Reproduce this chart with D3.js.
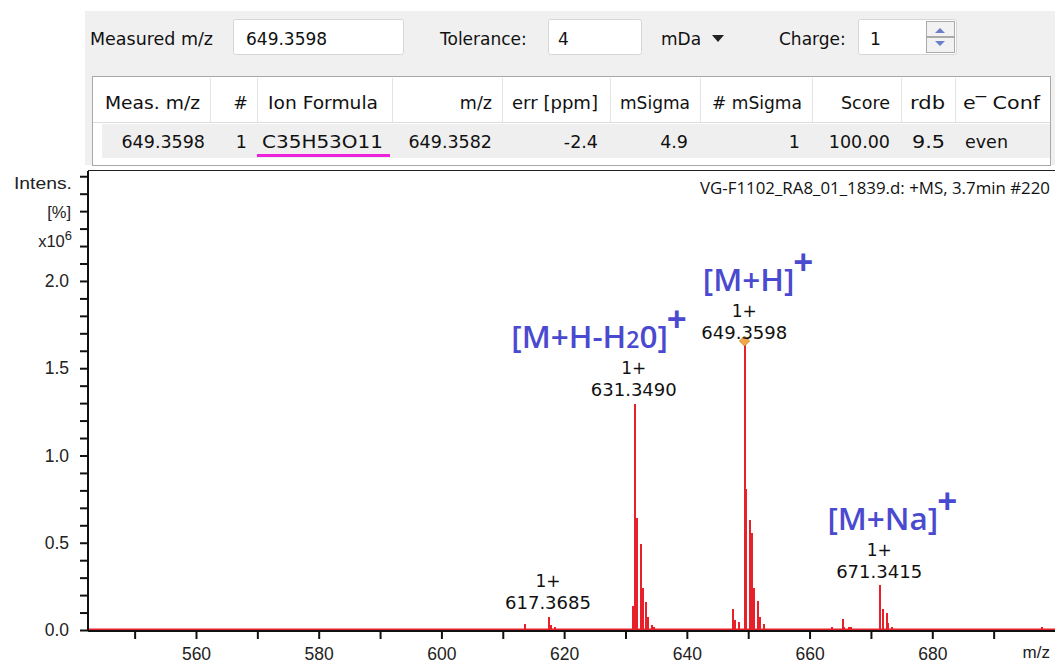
<!DOCTYPE html>
<html><head><meta charset="utf-8">
<script src="https://cdn.jsdelivr.net/npm/d3@7"></script>
<style>
html,body{margin:0;padding:0;background:#fff;}
svg{display:block;}
</style></head>
<body>
<svg id="chart" width="1055" height="664"></svg>
<script>
// ---------- DATA ----------
const peakMz = [613.47, 617.3685, 617.77, 618.30,
  631.06, 631.3490, 631.66, 632.31, 632.64, 633.24, 633.57, 634.20, 634.50,
  647.41, 647.68, 648.33, 649.3598, 649.53, 650.19, 650.44, 650.84, 651.43, 651.76, 652.41,
  663.50, 665.26, 665.50, 666.24, 666.57,
  671.3415, 671.73, 672.38, 672.60, 673.35, 697.70];
const peakIntensity = [0.033, 0.073, 0.030, 0.020,
  0.140, 1.295, 0.640, 0.490, 0.240, 0.160, 0.076, 0.030, 0.020,
  0.120, 0.057, 0.044, 1.656, 0.806, 0.630, 0.554, 0.240, 0.168, 0.076, 0.033,
  0.020, 0.065, 0.020, 0.020, 0.018,
  0.258, 0.120, 0.096, 0.042, 0.020, 0.020];
const labelMz = [617.3685, 631.3490, 649.3598, 671.3415];
const labelIntensity = [0.073, 1.295, 1.656, 0.258];
const labelCharge = ["1+", "1+", "1+", "1+"];
const ionNames = ["[M+H-H", "[M+H]", "[M+Na]"];
const ionSub = ["2", "", ""];
const ionTail = ["0]", "", ""];
const ionPeakMz = [631.3490, 649.3598, 671.3415];
const xTicks = [560, 580, 600, 620, 640, 660, 680];
const yTicks = [0.0, 0.5, 1.0, 1.5, 2.0];
const tableHeaders = ["Meas. m/z", "#", "Ion Formula", "m/z", "err [ppm]", "mSigma", "# mSigma", "Score", "rdb", "e\u203E Conf"];
const tableRow = ["649.3598", "1", "C35H53O11", "649.3582", "-2.4", "4.9", "1", "100.00", "9.5", "even"];
const measuredMz = "649.3598", tolerance = "4", toleranceUnit = "mDa", charge = "1";
const spectrumTitle = "VG-F1102_RA8_01_1839.d: +MS, 3.7min #220";

// ---------- LAYOUT ----------
const svg = d3.select("#chart");
const uiFont = "'DejaVu Sans', sans-serif";
const axFont = "'Liberation Sans', Arial, sans-serif";
const plot = {left: 88, right: 1055, top: 171, bottom: 630};
const x = d3.scaleLinear().domain([542.4, 700]).range([plot.left, plot.right]);
const y = d3.scaleLinear().domain([0, 2.63]).range([plot.bottom, plot.top]);

// ---- top form panel ----
svg.append("rect").attr("x", 85).attr("y", 11).attr("width", 970).attr("height", 154).attr("fill", "#f0f0f0");
const form = svg.append("g").attr("font-family", uiFont).attr("font-size", 17).attr("fill", "#111");
form.append("text").attr("x", 90).attr("y", 45).attr("textLength", 123).attr("lengthAdjust", "spacingAndGlyphs").text("Measured m/z");
form.append("rect").attr("x", 233.5).attr("y", 19.5).attr("width", 170).attr("height", 35).attr("fill", "#fff").attr("stroke", "#d6d6d6").attr("rx", 2);
form.append("text").attr("x", 246).attr("y", 45).text(measuredMz);
form.append("text").attr("x", 440).attr("y", 45).text("Tolerance:");
form.append("rect").attr("x", 548.5).attr("y", 19.5).attr("width", 93).attr("height", 35).attr("fill", "#fff").attr("stroke", "#d6d6d6").attr("rx", 2);
form.append("text").attr("x", 558).attr("y", 45).text(tolerance);
form.append("text").attr("x", 661).attr("y", 45).text(toleranceUnit);
form.append("path").attr("d", "M712,35 h12 l-6,7 z").attr("fill", "#222");
form.append("text").attr("x", 779).attr("y", 45).text("Charge:");
form.append("rect").attr("x", 858.5).attr("y", 19.5).attr("width", 98).attr("height", 35).attr("fill", "#fff").attr("stroke", "#d6d6d6").attr("rx", 2);
form.append("text").attr("x", 870).attr("y", 45).text(charge);
form.append("rect").attr("x", 926.5).attr("y", 21.5).attr("width", 28).attr("height", 15).attr("fill", "#f2f2f2").attr("stroke", "#aaa");
form.append("rect").attr("x", 926.5).attr("y", 37.5).attr("width", 28).attr("height", 15).attr("fill", "#f2f2f2").attr("stroke", "#aaa");
form.append("path").attr("d", "M935,33 h10 l-5,-5 z").attr("fill", "#6a7fc8");
form.append("path").attr("d", "M935,41 h10 l-5,5 z").attr("fill", "#6a7fc8");

// ---- table ----
const tbl = svg.append("g").attr("font-family", uiFont).attr("font-size", 17.5).attr("fill", "#111");
tbl.append("rect").attr("x", 92.5).attr("y", 76.5).attr("width", 958).attr("height", 89).attr("fill", "#fff").attr("stroke", "#a8a8a8");
tbl.append("rect").attr("x", 102).attr("y", 124).attr("width", 948).attr("height", 34).attr("fill", "#efefef");
tbl.append("line").attr("x1", 93).attr("x2", 1050).attr("y1", 122.5).attr("y2", 122.5).attr("stroke", "#dcdcdc");
const colSep = [210, 257, 392, 502, 610, 700, 812, 901, 955];
colSep.forEach(c => tbl.append("line").attr("x1", c + 0.5).attr("x2", c + 0.5).attr("y1", 78).attr("y2", 122).attr("stroke", "#e4e4e4"));
const hdrX = [105, 248, 268, 492, 512, 620, 712, 890, 910, 963];
const hdrAnchor = ["start", "end", "start", "end", "start", "start", "start", "end", "start", "start"];
const hdrW = [95, 0, 110, 0, 86, 70, 90, 0, 35, 77];
tableHeaders.forEach((h, i) => {
  const t = tbl.append("text").attr("x", hdrX[i]).attr("y", 109).attr("text-anchor", hdrAnchor[i]).text(h);
  if (hdrW[i]) t.attr("textLength", hdrW[i]).attr("lengthAdjust", "spacingAndGlyphs");
});
const rowX = [205, 247, 262, 492, 598, 688, 800, 890, 912, 965];
const rowAnchor = ["end", "end", "start", "end", "end", "end", "end", "end", "start", "start"];
const rowW = [0, 0, 121, 0, 0, 0, 0, 0, 33, 0];
tableRow.forEach((v, i) => {
  const t = tbl.append("text").attr("x", rowX[i]).attr("y", 148).attr("text-anchor", rowAnchor[i]).text(v);
  if (rowW[i]) t.attr("textLength", rowW[i]).attr("lengthAdjust", "spacingAndGlyphs");
});
tbl.append("rect").attr("x", 257).attr("y", 154).attr("width", 133).attr("height", 3).attr("fill", "#ee22dd");

// ---- chart area ----
svg.append("rect").attr("x", 0).attr("y", 166).attr("width", 1055).attr("height", 498).attr("fill", "#fff");
svg.append("line").attr("x1", plot.left).attr("x2", plot.right).attr("y1", 170.5).attr("y2", 170.5).attr("stroke", "#222");

svg.append("text").attr("x", 1050).attr("y", 194).attr("text-anchor", "end")
  .attr("font-family", "'Open Sans', sans-serif").attr("font-size", 15.5).attr("fill", "#111")
  .attr("textLength", 350).attr("lengthAdjust", "spacingAndGlyphs").text(spectrumTitle);

// baseline (red)
svg.append("line").attr("x1", plot.left).attr("x2", plot.right).attr("y1", y(0) - 0.5).attr("y2", y(0) - 0.5)
  .attr("stroke", "#e8202a").attr("stroke-width", 2);

// peaks
svg.append("g").selectAll("line").data(peakMz).join("line")
  .attr("x1", d => Math.round(x(d)) + 0.5).attr("x2", d => Math.round(x(d)) + 0.5)
  .attr("y1", y(0)).attr("y2", (d, i) => y(peakIntensity[i]))
  .attr("stroke", "#e8202a").attr("stroke-width", 2)
  .attr("shape-rendering", "crispEdges");

// axes
const xAxis = d3.axisBottom(x).tickValues(d3.range(550, 700, 10)).tickSize(8)
  .tickFormat(d => xTicks.includes(d) ? d : "");
const gx = svg.append("g").attr("transform", `translate(0,${plot.bottom + 1})`).call(xAxis);
gx.select(".domain").attr("stroke", "#111").attr("stroke-width", 2).attr("d", `M${plot.left},0H${plot.right}`);
gx.selectAll(".tick line").attr("stroke", "#111").attr("stroke-width", 2);
gx.selectAll(".tick text").attr("font-family", axFont).attr("font-size", 17.5).attr("fill", "#222").attr("dy", "1.0em");

const yAxis = d3.axisLeft(y).tickValues(d3.range(0, 27).map(d => d / 10)).tickSize(8)
  .tickFormat(d => yTicks.some(t => Math.abs(t - d) < 1e-9) ? d3.format(".1f")(d) : "");
const gy = svg.append("g").attr("transform", `translate(${plot.left},0)`).call(yAxis);
gy.select(".domain").attr("stroke", "#111").attr("stroke-width", 2).attr("d", `M0,${plot.top}V${plot.bottom + 1}`);
gy.selectAll(".tick line").attr("stroke", "#111").attr("stroke-width", 2);
gy.selectAll(".tick text").attr("font-family", axFont).attr("font-size", 17.5).attr("fill", "#222").attr("x", -19);

// y-axis caption
const cap = svg.append("g").attr("font-family", axFont).attr("font-size", 16.5).attr("fill", "#222").attr("text-anchor", "end");
cap.append("text").attr("x", 72).attr("y", 189).attr("textLength", 58).attr("lengthAdjust", "spacingAndGlyphs").text("Intens.");
cap.append("text").attr("x", 71).attr("y", 218).text("[%]");
const xt = cap.append("text").attr("x", 72).attr("y", 247);
xt.append("tspan").text("x10");
xt.append("tspan").attr("font-size", 13).attr("dy", -7).text("6");
svg.append("text").attr("x", 1050).attr("y", 658).attr("text-anchor", "end")
  .attr("font-family", axFont).attr("font-size", 17).attr("fill", "#222").text("m/z");

// marker on base peak
const bp = d3.maxIndex(peakIntensity);
svg.append("path").attr("transform", `translate(${Math.round(x(peakMz[bp])) + 0.5},${y(peakIntensity[bp])})`)
  .attr("d", "M0,-5 L5,0 L0,5 L-5,0 Z").attr("fill", "#f0a848").attr("stroke", "#d08830");

// peak labels + ion annotations
const labelDy = [8, 8, 2, 7];
const ionDx = [34, 50, 59];
const lab = svg.append("g").attr("font-family", uiFont).attr("font-size", 17).attr("fill", "#111").attr("text-anchor", "middle");
const ion = svg.append("g").attr("font-family", "'Open Sans', sans-serif").attr("font-weight", 600).attr("fill", "#4a4ad0");
labelMz.forEach((m, i) => {
  const px = x(m), base = y(labelIntensity[i]) - labelDy[i];
  lab.append("text").attr("x", px).attr("y", base).attr("textLength", 86).attr("lengthAdjust", "spacingAndGlyphs").text(m.toFixed(4));
  lab.append("text").attr("x", px).attr("y", base - 22).text(labelCharge[i]);
  const k = ionPeakMz.indexOf(m);
  if (k < 0) return;
  const ib = base - 48;
  const t = ion.append("text").attr("x", px + ionDx[k]).attr("y", ib).attr("text-anchor", "end").attr("font-size", 31.5);
  t.append("tspan").text(ionNames[k]);
  if (ionSub[k]) t.append("tspan").attr("font-size", 23).text(ionSub[k]);
  if (ionTail[k]) t.append("tspan").text(ionTail[k]);
  ion.append("text").attr("x", px + ionDx[k] - 1).attr("y", ib - 16).attr("font-size", 35).attr("font-weight", 700).text("+");
});
</script>
</body></html>
